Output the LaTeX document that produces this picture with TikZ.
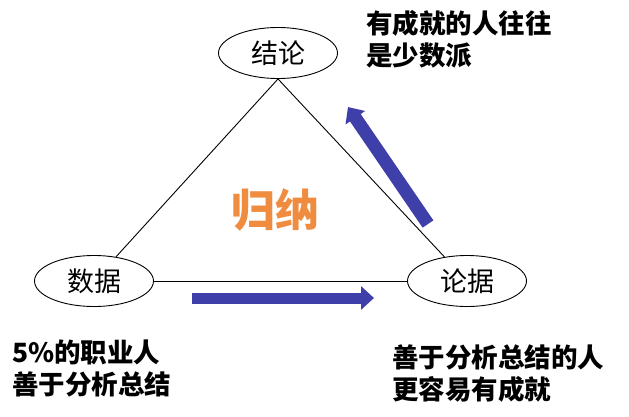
\documentclass[tikz,border=0pt]{standalone}
\usepackage{fontspec}
\setmainfont{Noto Sans CJK SC}
\usetikzlibrary{shapes.geometric}
\usetikzlibrary{arrows.meta}
\definecolor{arrowblue}{RGB}{63,63,170}
\definecolor{induceorange}{RGB}{240,140,64}

\begin{document}
\begin{tikzpicture}[x=1pt,y=-1pt,
    term/.style={draw,line width=0.9pt,ellipse,minimum width=119pt,minimum height=51pt,
      inner sep=0pt,font=\fontsize{27}{27}\selectfont},
    note/.style={anchor=north west,inner sep=0pt,align=left,
      font=\fontsize{26.5}{32}\selectfont\bfseries},
    fatarrow/.style={arrowblue,line width=11pt,-{Triangle[length=13pt,width=23pt]}}]
        \useasboundingbox (0,0) rectangle (629,416);

        % the three terms
        \node[term] (jl) at (278,53) {结论};
        \node[term] (sj) at (94,281) {数据};
        \node[term] (lj) at (467,281) {论据};

        \draw[line width=0.9pt] (jl.south) -- (sj);
        \draw[line width=0.9pt] (jl.south) -- (lj);
        \draw[line width=0.9pt] (sj) -- (lj);

        \node[induceorange,font=\fontsize{44}{44}\selectfont\bfseries] (gn) at (275,210) {归纳};

        % blue arrows
        \coordinate (a1) at (192,298);
        \coordinate (a2) at (374,298);
        \coordinate (b1) at (428,224);
        \coordinate (b2) at (348,107);
        \draw[fatarrow] (a1) -- (a2);
        \draw[fatarrow,line width=13pt] (b1) -- (b2);

        % notes
        \node[note] (top) at (366,10) {有成就的人往往\\是少数派};
        \node[note] (left) at (12,340) {5\%的职业人\\善于分析总结};
        \node[note] (right) at (392,345) {善于分析总结的人\\更容易有成就};
    \end{tikzpicture}
\end{document}
